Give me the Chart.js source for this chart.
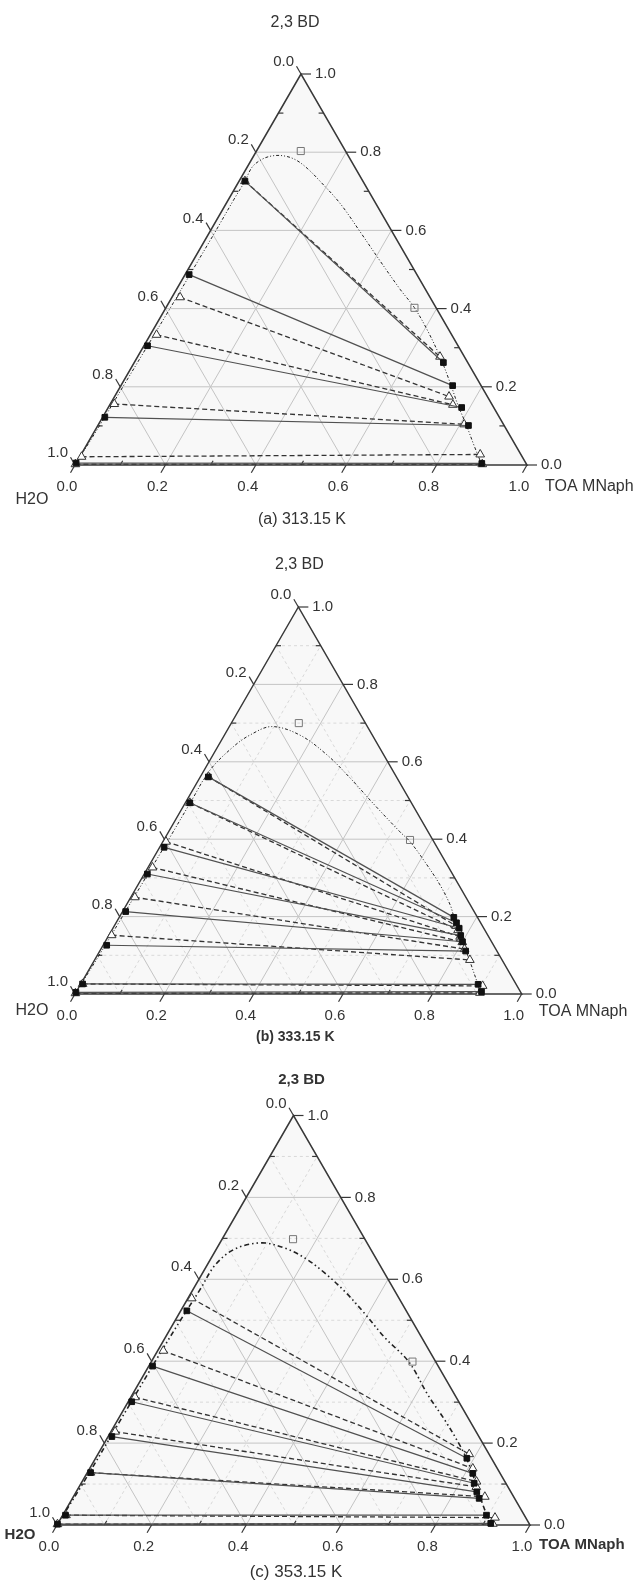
<!DOCTYPE html>
<html>
<head>
<meta charset="utf-8">
<script src="https://cdn.jsdelivr.net/npm/chart.js@4"></script>
<style>
  body { margin: 0; background: #fff; }
  #wrap { position: relative; width: 641px; height: 1580px; }
  canvas { position: absolute; left: 0; }
</style>
</head>
<body>
<div id="wrap">
  <canvas id="chartA" width="641" height="530" style="top:0px"></canvas>
  <canvas id="chartB" width="641" height="530" style="top:530px"></canvas>
  <canvas id="chartC" width="641" height="520" style="top:1060px"></canvas>
</div>
<script>
// ternary points are [TOA MNaph, 2,3 BD]; H2O = 1 - both
const majorTicks = [0, 0.2, 0.4, 0.6, 0.8, 1.0]
const minorTicks = [0.1, 0.3, 0.5, 0.7, 0.9]

// (a) 313.15 K
const aBinodal = [[0, 0], [0.004, 0.1], [0.006, 0.2], [0.008, 0.3], [0.010, 0.4], [0.011, 0.5], [0.012, 0.6], [0.012, 0.68],
  [0.013, 0.726], [0.011, 0.762], [0.023, 0.782], [0.043, 0.791], [0.070, 0.790], [0.099, 0.780], [0.134, 0.759],
  [0.179, 0.726], [0.252, 0.669], [0.332, 0.597], [0.415, 0.521], [0.495, 0.449], [0.549, 0.403], [0.606, 0.346],
  [0.669, 0.277], [0.725, 0.210], [0.770, 0.154], [0.814, 0.103], [0.857, 0.051], [0.896, 0.005]]
const aExpAq = [[0.013, 0.726], [0.009, 0.487], [0.008, 0.305], [0.005, 0.122], [0.0, 0.005]]
const aExpOrg = [[0.684, 0.262], [0.734, 0.203], [0.782, 0.147], [0.820, 0.101], [0.898, 0.004]]
const aCalcAq = [[0.013, 0.726], [0.018, 0.429], [0.014, 0.333], [0.009, 0.156], [0.004, 0.021], [0.0, 0.002]]
const aCalcOrg = [[0.669, 0.277], [0.740, 0.175], [0.759, 0.154], [0.809, 0.104], [0.883, 0.027], [0.9, 0.002]]
const aOpen = [[0.098, 0.803], [0.55, 0.402]]

// (b) 333.15 K
const bBinodal = [[0, 0], [0.004, 0.1], [0.006, 0.2], [0.008, 0.3], [0.010, 0.4], [0.011, 0.5], [0.013, 0.579],
  [0.035, 0.639], [0.057, 0.669], [0.095, 0.691], [0.169, 0.669], [0.255, 0.618], [0.337, 0.558], [0.427, 0.488],
  [0.518, 0.419], [0.554, 0.393], [0.613, 0.341], [0.676, 0.282], [0.725, 0.230], [0.749, 0.199], [0.774, 0.171],
  [0.801, 0.134], [0.820, 0.111], [0.843, 0.083], [0.889, 0.026], [0.908, 0.005]]
const bExpAq = [[0.018, 0.561], [0.010, 0.494], [0.010, 0.379], [0.007, 0.31], [0.007, 0.213], [0.008, 0.126], [0.004, 0.026], [0.0, 0.004]]
const bExpOrg = [[0.749, 0.198], [0.762, 0.184], [0.775, 0.17], [0.788, 0.151], [0.80, 0.135], [0.819, 0.111], [0.89, 0.025], [0.907, 0.006]]
const bCalcAq = [[0.018, 0.5615], [0.010, 0.494], [0.007, 0.3935], [0.010, 0.327], [0.009, 0.25], [0.006, 0.152], [0.004, 0.026], [0.0, 0.002]]
const bCalcOrg = [[0.765, 0.176], [0.775, 0.165], [0.788, 0.148], [0.80, 0.134], [0.814, 0.116], [0.84, 0.088], [0.902, 0.021], [0.905, 0.003]]
const bOpen = [[0.151, 0.70], [0.551, 0.398]]

// (c) 353.15 K
const cBinodal = [[0, 0], [0.004, 0.1], [0.006, 0.25], [0.008, 0.4], [0.011, 0.5], [0.015, 0.574], [0.017, 0.635],
  [0.039, 0.674], [0.088, 0.689], [0.144, 0.676], [0.198, 0.652], [0.259, 0.615], [0.325, 0.569], [0.394, 0.515],
  [0.465, 0.457], [0.545, 0.398], [0.626, 0.317], [0.692, 0.256], [0.754, 0.195], [0.792, 0.154], [0.824, 0.115],
  [0.849, 0.083], [0.876, 0.049], [0.897, 0.024], [0.915, 0.004]]
const cExpAq = [[0.013, 0.523], [0.008, 0.388], [0.0075, 0.301], [0.008, 0.216], [0.007, 0.128], [0.006, 0.024], [0.0, 0.002]]
const cExpOrg = [[0.785, 0.163], [0.816, 0.126], [0.831, 0.102], [0.847, 0.081], [0.86, 0.065], [0.896, 0.024], [0.915, 0.004]]
const cCalcAq = [[0.008, 0.5535], [0.012, 0.4255], [0.009, 0.312], [0.009, 0.228], [0.007, 0.128], [0.007, 0.024], [0.0, 0.002]]
const cCalcOrg = [[0.785, 0.173], [0.81, 0.138], [0.834, 0.106], [0.84, 0.093], [0.87, 0.069], [0.917, 0.018], [0.92, 0.003]]
const cOpen = [[0.15, 0.698], [0.552, 0.399]]

const toXY = ([t, b]) => ({ x: t + b / 2, y: b })
const FONT = '"Liberation Sans", Arial, sans-serif'

const ternaryPlugin = {
  id: 'ternary',
  beforeDatasetsDraw(chart, args, opts) {
    const ctx = chart.ctx
    const P = (t, b) => [chart.scales.x.getPixelForValue(t + b / 2), chart.scales.y.getPixelForValue(b)]
    const seg = (p, q) => { ctx.beginPath(); ctx.moveTo(p[0], p[1]); ctx.lineTo(q[0], q[1]); ctx.stroke() }
    const A = P(0, 1), L = P(0, 0), R = P(1, 0)
    ctx.save()
    ctx.fillStyle = '#f8f8f8'
    ctx.beginPath(); ctx.moveTo(A[0], A[1]); ctx.lineTo(L[0], L[1]); ctx.lineTo(R[0], R[1]); ctx.closePath(); ctx.fill()

    const gridLine = v => {
      seg(P(0, v), P(1 - v, v))
      seg(P(v, 0), P(v, 1 - v))
      seg(P(0, 1 - v), P(1 - v, 0))
    }
    ctx.lineWidth = 1
    if (opts.minorGrid) {
      ctx.setLineDash([3, 3])
      ctx.strokeStyle = '#d9d9d9'
      minorTicks.forEach(gridLine)
    }
    ctx.setLineDash([])
    ctx.strokeStyle = '#c4c4c4'
    majorTicks.slice(1, -1).forEach(gridLine)

    // frame
    ctx.strokeStyle = '#383838'
    ctx.lineWidth = 1.5
    ctx.beginPath(); ctx.moveTo(A[0], A[1]); ctx.lineTo(L[0], L[1]); ctx.lineTo(R[0], R[1]); ctx.closePath(); ctx.stroke()

    // ticks
    ctx.lineWidth = 1.2
    const tick = (p, dx, dy) => seg(p, [p[0] + dx, p[1] + dy])
    majorTicks.forEach(v => {
      tick(P(1 - v, v), 10, 0)
      tick(P(0, 1 - v), -4.5, -7.8)
      tick(P(v, 0), -4.5, 7.8)
    })
    minorTicks.forEach(v => {
      tick(P(1 - v, v), -5, 0)
      tick(P(0, 1 - v), 5, 0)
      tick(P(v, 0), 2.5, -4.3)
    })
    ctx.restore()
  },
  afterDraw(chart, args, opts) {
    const ctx = chart.ctx
    const P = (t, b) => [chart.scales.x.getPixelForValue(t + b / 2), chart.scales.y.getPixelForValue(b)]
    const A = P(0, 1), L = P(0, 0), R = P(1, 0)
    ctx.save()
    ctx.fillStyle = '#333'
    ctx.textBaseline = 'middle'
    ctx.font = '15px ' + FONT
    majorTicks.forEach(v => {
      const s = v.toFixed(1)
      let p = P(1 - v, v)
      ctx.textAlign = 'left'
      ctx.fillText(s, p[0] + 14, p[1])
      p = P(0, 1 - v)
      ctx.textAlign = 'right'
      ctx.fillText(s, p[0] - 7, p[1] - 12)
      p = P(v, 0)
      ctx.textAlign = 'center'
      ctx.fillText(s, p[0] - 8, p[1] + 22)
    })
    const w = opts.bold ? 'bold ' : ''
    ctx.font = w + opts.nameSize + 'px ' + FONT
    ctx.textAlign = 'center'
    ctx.fillText('2,3 BD', A[0] + opts.top[0], A[1] + opts.top[1])
    ctx.fillText('H2O', L[0] + opts.left[0], L[1] + opts.left[1])
    ctx.textAlign = 'left'
    ctx.fillText('TOA MNaph', R[0] + opts.right[0], R[1] + opts.right[1])
    ctx.textAlign = 'center'
    ctx.font = (opts.captionBold ? 'bold ' : '') + opts.captionSize + 'px ' + FONT
    ctx.fillText(opts.caption, A[0] + opts.cap[0], L[1] + opts.cap[1])
    ctx.restore()
  }
}

function tieLines(aq, org, style) {
  return aq.map((p, i) => Object.assign({ data: [toXY(p), toXY(org[i])], showLine: true, clip: false }, style))
}

function makeTernary(id, d, layout, labels) {
  const expStyle = {
    borderColor: '#505050', borderWidth: 1.2, pointStyle: 'rect', pointRadius: 4,
    pointBackgroundColor: '#111', pointBorderColor: '#111', pointBorderWidth: 1
  }
  const calcStyle = {
    borderColor: '#333', borderWidth: 1.3, borderDash: [5, 3], pointStyle: 'triangle', pointRadius: 5,
    pointBackgroundColor: '#fff', pointBorderColor: '#333', pointBorderWidth: 1
  }
  const datasets = [
    { data: d.open.map(toXY), pointStyle: 'rect', pointRadius: 5, pointBackgroundColor: 'rgba(0,0,0,0)',
      pointBorderColor: '#777', pointBorderWidth: 1, showLine: false, clip: false },
    ...tieLines(d.expAq, d.expOrg, expStyle),
    ...tieLines(d.calcAq, d.calcOrg, calcStyle),
    { data: d.binodal.map(toXY), showLine: true, pointRadius: 0, borderColor: '#222',
      borderWidth: d.binodalWidth, borderDash: d.binodalDash, tension: 0.35, clip: false }
  ]
  return new Chart(document.getElementById(id), {
    type: 'scatter',
    data: { datasets },
    options: {
      responsive: false,
      animation: false,
      devicePixelRatio: 1,
      layout: { padding: layout },
      scales: {
        x: { type: 'linear', min: 0, max: 1, display: false },
        y: { type: 'linear', min: 0, max: 1, display: false }
      },
      plugins: {
        legend: { display: false },
        tooltip: { enabled: false },
        ternary: labels
      }
    },
    plugins: [ternaryPlugin]
  })
}

makeTernary('chartA',
  { binodal: aBinodal, expAq: aExpAq, expOrg: aExpOrg, calcAq: aCalcAq, calcOrg: aCalcOrg, open: aOpen,
    binodalWidth: 1, binodalDash: [3, 2, 1, 2, 1, 2] },
  { left: 75, right: 114, top: 74, bottom: 65 },
  { minorGrid: false, bold: false, nameSize: 16, top: [-6, -51], left: [-43, 35], right: [18, 22],
    caption: '(a) 313.15 K', captionSize: 16, captionBold: false, cap: [1, 55] })

makeTernary('chartB',
  { binodal: bBinodal, expAq: bExpAq, expOrg: bExpOrg, calcAq: bCalcAq, calcOrg: bCalcOrg, open: bOpen,
    binodalWidth: 1, binodalDash: [3, 2, 1, 2, 1, 2] },
  { left: 75, right: 119.3, top: 77, bottom: 66 },
  { minorGrid: true, bold: false, nameSize: 16, top: [1, -42], left: [-43, 17], right: [17, 18],
    caption: '(b) 333.15 K', captionSize: 14, captionBold: true, cap: [-3, 43] })

makeTernary('chartC',
  { binodal: cBinodal, expAq: cExpAq, expOrg: cExpOrg, calcAq: cCalcAq, calcOrg: cCalcOrg, open: cOpen,
    binodalWidth: 1.6, binodalDash: [5, 3, 1.5, 3, 1.5, 3] },
  { left: 57, right: 111, top: 55.5, bottom: 55 },
  { minorGrid: true, bold: true, nameSize: 15, top: [8, -36], left: [-37, 10], right: [9, 20],
    caption: '(c) 353.15 K', captionSize: 17, captionBold: false, cap: [2.5, 47] })
</script>
</body>
</html>
